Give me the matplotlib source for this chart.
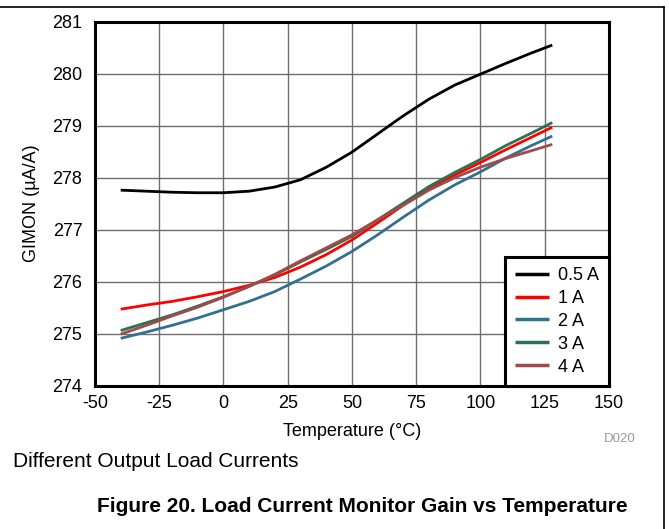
import matplotlib
matplotlib.use("Agg")
import matplotlib.pyplot as plt
from matplotlib.lines import Line2D

plt.rcParams["font.family"] = ["Liberation Sans", "DejaVu Sans"]
plt.rcParams["axes.unicode_minus"] = False

# temperature points (deg C)
temp = [-40, -30, -20, -10, 0, 10, 20, 30, 40, 50, 60, 70, 80, 90, 100, 110, 120, 128]

# GIMON (uA/A) for each load current
gimon_05a = [277.76, 277.74, 277.72, 277.71, 277.71, 277.74, 277.82, 277.96, 278.20, 278.49,
             278.84, 279.19, 279.51, 279.78, 279.99, 280.20, 280.40, 280.55]
gimon_1a = [275.47, 275.55, 275.62, 275.71, 275.81, 275.93, 276.08, 276.28, 276.52, 276.80,
            277.13, 277.47, 277.78, 278.05, 278.29, 278.54, 278.78, 278.97]
gimon_2a = [274.91, 275.03, 275.16, 275.30, 275.46, 275.62, 275.81, 276.05, 276.30, 276.58,
            276.90, 277.24, 277.57, 277.86, 278.11, 278.38, 278.62, 278.80]
gimon_3a = [275.06, 275.21, 275.36, 275.53, 275.71, 275.91, 276.13, 276.38, 276.62, 276.87,
            277.19, 277.51, 277.83, 278.10, 278.35, 278.62, 278.86, 279.06]
gimon_4a = [274.99, 275.16, 275.34, 275.51, 275.70, 275.91, 276.14, 276.40, 276.65, 276.90,
            277.19, 277.47, 277.76, 278.00, 278.20, 278.37, 278.52, 278.64]

series = [
    ("0.5 A", gimon_05a, "#000000"),
    ("1 A", gimon_1a, "#ff0000"),
    ("2 A", gimon_2a, "#33708f"),
    ("3 A", gimon_3a, "#2f7050"),
    ("4 A", gimon_4a, "#a04a4a"),
]

x_ticks = [-50, -25, 0, 25, 50, 75, 100, 125, 150]
y_ticks = [274, 275, 276, 277, 278, 279, 280, 281]

fig = plt.figure(figsize=(6.69, 5.29), dpi=100)
ax = fig.add_axes([0.142, 0.271, 0.768, 0.688])

for label, vals, col in series:
    ax.plot(temp, vals, color=col, lw=2, label=label, solid_capstyle="butt")

ax.set_xlim(-50, 150)
ax.set_ylim(274, 281)
ax.set_xticks(x_ticks)
ax.set_yticks(y_ticks)
ax.grid(True, color="#6e6e6e", lw=1)
ax.set_axisbelow(True)
ax.tick_params(axis="both", length=0, labelsize=13)
ax.tick_params(axis="y", pad=9)
ax.tick_params(axis="x", pad=7)
for sp in ax.spines.values():
    sp.set_linewidth(2.2)
    sp.set_color("black")

ax.set_xlabel("Temperature (°C)", fontsize=13, labelpad=8)
ax.set_ylabel("GIMON (µA/A)", fontsize=13)
ax.yaxis.set_label_coords(-0.108, 0.5)

leg = ax.legend(loc="lower right", borderaxespad=0, fontsize=13, fancybox=False,
                framealpha=1, edgecolor="black", handlelength=1.9,
                labelspacing=0.33, borderpad=0.55, handletextpad=0.5)
leg.get_frame().set_linewidth(2.2)
for h in leg.get_lines():
    h.set_linewidth(2.5)

fig.text(0.927, 0.170, "D020", fontsize=9.5, color="#999999", ha="center", va="center")
fig.text(0.019, 0.127, "Different Output Load Currents", fontsize=15, ha="left", va="center")
fig.text(0.541, 0.043, "Figure 20. Load Current Monitor Gain vs Temperature",
         fontsize=15, fontweight="bold", ha="center", va="center")

# page frame lines (top and right)
fig.add_artist(Line2D([0, 0.993], [0.987, 0.987], color="black", lw=1.2, transform=fig.transFigure))
fig.add_artist(Line2D([0.993, 0.993], [0, 0.987], color="black", lw=1.2, transform=fig.transFigure))

fig.savefig("out.png", dpi=100)
